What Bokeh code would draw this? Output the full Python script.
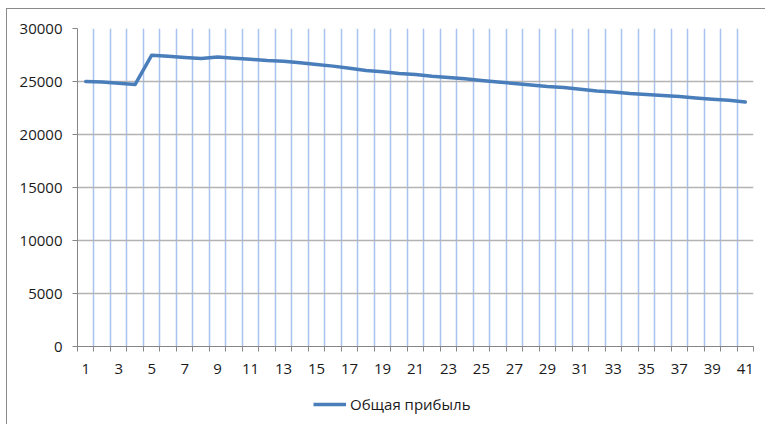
from bokeh.plotting import figure
from bokeh.layouts import column
from bokeh.models import FixedTicker, Range1d, Legend, LegendItem
from bokeh.embed import file_html
from bokeh.resources import INLINE

# Period numbers and total profit per period
periods = list(range(1, 42))
profit = [
    25000, 24960, 24840, 24720, 27480, 27390, 27270, 27170, 27320, 27200,
    27100, 26980, 26920, 26760, 26600, 26450, 26250, 26040, 25910, 25750,
    25660, 25500, 25380, 25250, 25090, 24960, 24810, 24680, 24530, 24430,
    24270, 24110, 24020, 23870, 23770, 23680, 23580, 23450, 23330, 23230,
    23070,
]
series_name = "Общая прибыль"
y_ticks = [0, 5000, 10000, 15000, 20000, 25000, 30000]
x_label_ticks = list(range(1, 42, 2))
x_boundaries = [i + 0.5 for i in range(0, 42)]

FONT = "Open Sans"
TEXT = "#1a1a1a"
AXIS = "#868686"
LINE = "#4a7ebb"

p = figure(width=758, height=382, output_backend="svg", toolbar_location=None,
           x_range=Range1d(0.5, 41.5), y_range=Range1d(0, 30000),
           min_border_left=70, min_border_right=12, min_border_top=19,
           min_border_bottom=45)
p.outline_line_color = None
p.background_fill_color = "white"
p.border_fill_color = "white"

# x axis: tick marks between categories, labels on every other category
p.xaxis.ticker = FixedTicker(ticks=x_label_ticks, minor_ticks=x_boundaries)
p.xaxis.major_tick_out = 0
p.xaxis.major_tick_in = 0
p.xaxis.minor_tick_out = 5
p.xaxis.minor_tick_in = 0
p.xaxis.minor_tick_line_color = AXIS
p.xaxis.axis_line_color = AXIS
p.xaxis.major_label_standoff = 12
p.xaxis.major_label_text_font = FONT
p.xaxis.major_label_text_font_size = "15px"
p.xaxis.major_label_text_color = TEXT

p.yaxis.ticker = FixedTicker(ticks=y_ticks)
p.yaxis.major_tick_out = 5
p.yaxis.major_tick_in = 0
p.yaxis.minor_tick_out = 0
p.yaxis.minor_tick_in = 0
p.yaxis.major_tick_line_color = AXIS
p.yaxis.axis_line_color = AXIS
p.yaxis.major_label_standoff = 10
p.yaxis.major_label_text_font = FONT
p.yaxis.major_label_text_font_size = "15px"
p.yaxis.major_label_text_color = TEXT

p.xgrid.grid_line_color = None
p.xgrid.minor_grid_line_color = "#a9c3ee"
p.xgrid.minor_grid_line_width = 1.5
p.ygrid.grid_line_color = "#b3b3b3"
p.ygrid.grid_line_width = 1.5

p.line(periods, profit, line_width=3.5, line_color=LINE,
       line_join="round", line_cap="round")

# legend strip under the chart; its series renderer lies outside the strip's
# ranges, so only the legend entry is visible
leg = figure(width=758, height=33, output_backend="svg", toolbar_location=None,
             x_axis_type=None, y_axis_type=None,
             x_range=Range1d(-2, -1), y_range=Range1d(-2, -1),
             min_border_left=0, min_border_right=0, min_border_top=0,
             min_border_bottom=0)
leg.outline_line_color = None
leg.grid.grid_line_color = None
leg_r = leg.line(periods, profit, line_width=3.5, line_color=LINE)
legend = Legend(items=[LegendItem(label=series_name, renderers=[leg_r])],
                location=(236, 10), orientation="horizontal",
                glyph_width=33, glyph_height=16, label_standoff=4,
                padding=0, margin=0, spacing=0,
                border_line_color=None, background_fill_alpha=0,
                label_text_font=FONT, label_text_font_size="15px",
                label_text_color=TEXT)
leg.add_layout(legend)

# chart area frame (only its top and left edges fall inside the page)
layout = column(p, leg, spacing=0)
layout.styles = {"margin-left": "6px", "margin-top": "8px",
                 "border-left": "1px solid #8a8a8a",
                 "border-top": "1px solid #8a8a8a"}

open("out.html", "w").write(file_html(layout, INLINE))
